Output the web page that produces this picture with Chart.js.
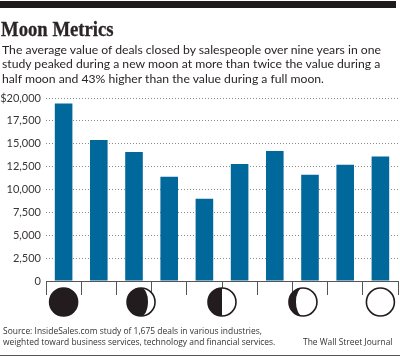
<!DOCTYPE html>
<html>
<head>
<meta charset="utf-8">
<script src="https://cdn.jsdelivr.net/npm/chart.js@4"></script>
<style>
html, body { margin: 0; padding: 0; background: #fff; }
#wrap { position: relative; width: 400px; height: 356px; overflow: hidden; }
#chart { position: absolute; left: 0; top: 0; }
.txt { position: absolute; white-space: nowrap; color: #2b2526; }
#topRule { position: absolute; left: 0; top: 1px; width: 396px; height: 7px; background: #1f1a1c; }
#botRule { position: absolute; left: 0; top: 355px; width: 400px; height: 1px; background: #555; }
#title { left: 1px; top: 17px; font: bold 21px/24px "Liberation Serif", serif; transform: scaleX(.89); transform-origin: left; -webkit-text-stroke: .3px #2b2526; }
.sub { left: 2px; font: 12.2px/15px Lato, sans-serif; }
.src { left: 3px; font: 9.6px/11px "Open Sans", sans-serif; color: #333; transform: scaleX(.88); transform-origin: left; }
</style>
</head>
<body>
<div id="wrap">
	<canvas id="chart" width="400" height="356"></canvas>
	<div id="topRule"></div>
	<div class="txt" id="title">Moon Metrics</div>
	<div class="txt sub" style="top:42px">The average value of deals closed by salespeople over nine years in one</div>
	<div class="txt sub" style="top:56px">study peaked during a new moon at more than twice the value during a</div>
	<div class="txt sub" style="top:71px">half moon and 43% higher than the value during a full moon.</div>
	<div class="txt src" style="top:325px">Source: InsideSales.com study of 1,675 deals in various industries,</div>
	<div class="txt src" style="top:336px">weighted toward business services, technology and financial services.</div>
	<div class="txt src" style="top:336px;left:303px">The Wall Street Journal</div>
	<div id="botRule"></div>
</div>
<script>
var categories = ['1', '2', '3', '4', '5', '6', '7', '8', '9', '10'],
	dealValues = [19400, 15400, 14100, 11400, 9000, 12800, 14200, 11600, 12700, 13600],
	yTicks = [0, 2500, 5000, 7500, 10000, 12500, 15000, 17500, 20000],
	// category position of each moon, and which phase it shows
	moonPositions = [0, 2.2, 4.5, 6.8, 9],
	moonPhases = ['new', 'waxing', 'half', 'waning', 'full'];

var inkColor = '#231c1e';

// path of the dark part of a moon, lit side on the right
var darkPart = function (ctx, x, y, r, phase) {
	ctx.beginPath();
	if (phase === 'new') {
		ctx.arc(x, y, r, 0, Math.PI * 2);
	} else if (phase === 'half') {
		ctx.arc(x, y, r, Math.PI / 2, Math.PI * 1.5);
	} else if (phase === 'waxing') {
		ctx.arc(x, y, r, Math.PI * 0.5, Math.PI * 1.5);
		ctx.ellipse(x, y, r * 0.5, r, 0, -Math.PI / 2, Math.PI / 2);
	} else if (phase === 'waning') {
		ctx.arc(x, y, r, Math.PI * 0.5, Math.PI * 1.5);
		ctx.ellipse(x, y, r * 0.5, r, 0, -Math.PI / 2, Math.PI / 2, true);
	}
	ctx.closePath();
	ctx.fill();
};

var moonPlugin = {
	id: 'moons',
	afterDraw: function (chart) {
		var ctx = chart.ctx,
			xScale = chart.scales.x,
			y = chart.chartArea.bottom + 21,
			r = 14;

		ctx.save();
		ctx.fillStyle = inkColor;
		ctx.strokeStyle = inkColor;
		ctx.lineWidth = 1.6;
		moonPositions.forEach(function (pos, i) {
			var x = xScale.getPixelForValue(pos);
			ctx.beginPath();
			ctx.arc(x, y, r, 0, Math.PI * 2);
			ctx.fillStyle = '#fff';
			ctx.fill();
			ctx.stroke();
			ctx.fillStyle = inkColor;
			darkPart(ctx, x, y, r, moonPhases[i]);
		});
		ctx.restore();
	}
};

new Chart(document.getElementById('chart'), {
	type: 'bar',
	data: {
		labels: categories,
		datasets: [{
			data: dealValues,
			backgroundColor: '#01689b',
			categoryPercentage: 1,
			barPercentage: 0.5
		}]
	},
	options: {
		responsive: false,
		animation: false,
		layout: {
			padding: { left: 0, right: 2, top: 98, bottom: 61 }
		},
		plugins: {
			legend: { display: false },
			tooltip: { enabled: false }
		},
		scales: {
			x: {
				grid: {
					offset: true,
					drawOnChartArea: false,
					drawTicks: true,
					tickLength: 14,
					color: '#555',
					lineWidth: 1
				},
				border: { color: '#555', width: 1 },
				ticks: { display: false }
			},
			y: {
				min: 0,
				max: 20000,
				afterFit: function (axis) {
					axis.width = 46;
				},
				afterBuildTicks: function (axis) {
					axis.ticks = yTicks.map(function (v) {
						return { value: v };
					});
				},
				grid: {
					drawTicks: false,
					color: '#8a8a8a',
					lineWidth: 1
				},
				border: { display: false, dash: [1, 2] },
				ticks: {
					padding: 5,
					color: '#3a3536',
					font: { family: 'Lato', size: 11 },
					callback: function (v) {
						var s = v.toLocaleString('en-US');
						return v === 20000 ? '$' + s : s;
					}
				}
			}
		}
	},
	plugins: [moonPlugin]
});
</script>
</body>
</html>
